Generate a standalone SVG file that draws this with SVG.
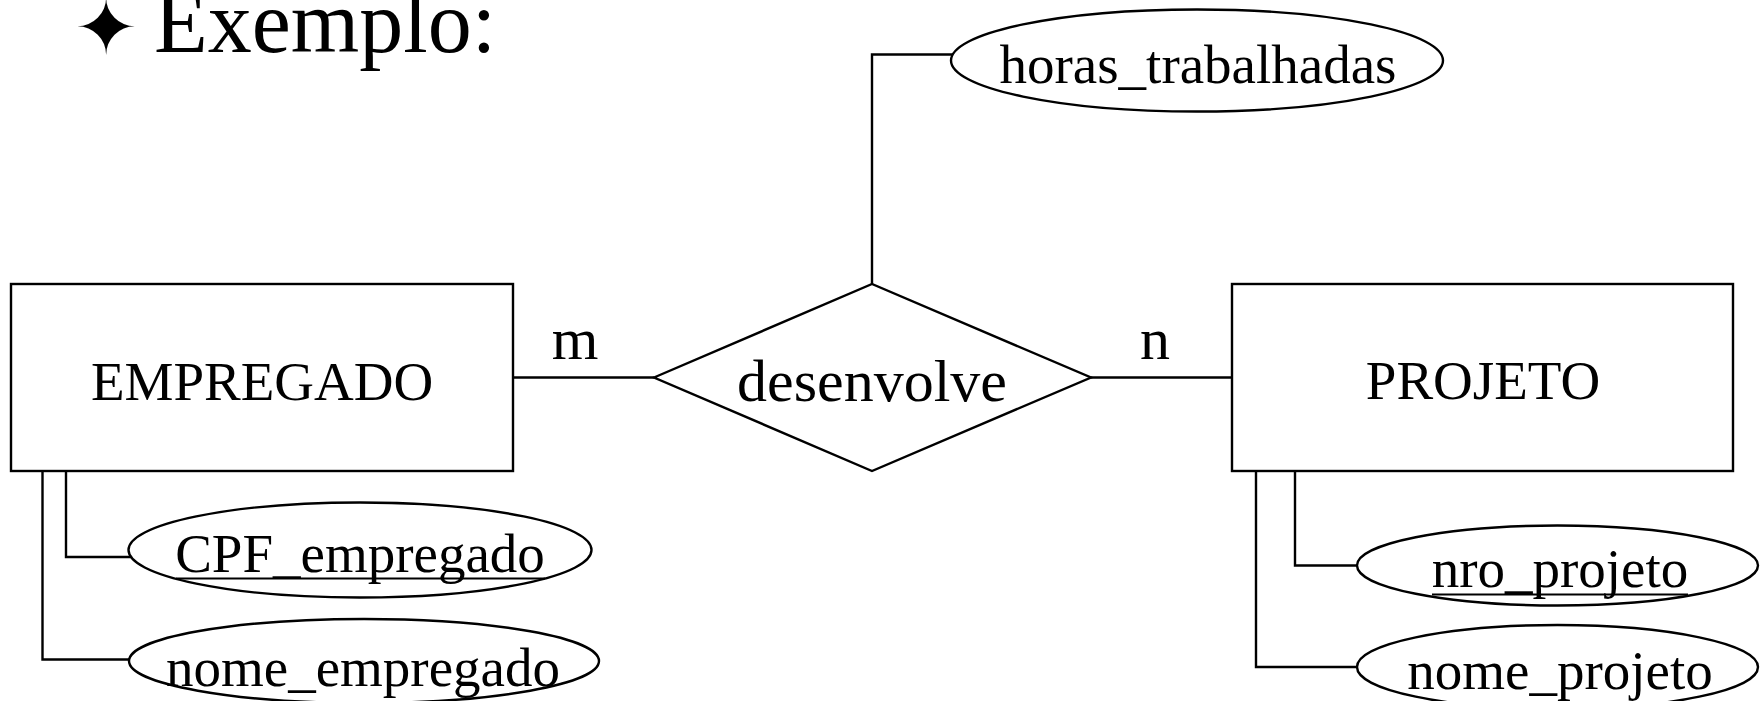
<svg xmlns="http://www.w3.org/2000/svg" width="1760" height="701" viewBox="0 0 1760 701">
  <style>
    .shape { fill: #ffffff; stroke: #000000; stroke-width: 2.4; }
    .wire { fill: none; stroke: #000000; stroke-width: 2.4; }
    .uline { stroke: #000000; stroke-width: 2.2; }
    .lbl { font-family: "Liberation Serif", "Times New Roman", serif; fill: #000000; text-anchor: middle; }
  </style>
  <rect width="1760" height="701" fill="#ffffff"/>

  <!-- slide heading -->
  <g id="heading">
    <text x="106" y="54" font-family="DejaVu Sans, sans-serif" font-size="76" text-anchor="middle">✦</text>
    <text x="154" y="52" font-family="Liberation Serif, serif" font-size="88">Exemplo:</text>
  </g>

  <!-- connectors -->
  <g id="connectors">
    <line class="wire" x1="513" y1="377.5" x2="654" y2="377.5"/>
    <line class="wire" x1="1091" y1="377.5" x2="1232" y2="377.5"/>
    <polyline class="wire" points="872,284 872,54.5 953,54.5"/>
    <polyline class="wire" points="66,471 66,557 131,557"/>
    <polyline class="wire" points="42.5,471 42.5,659.5 130,659.5"/>
    <polyline class="wire" points="1295,471 1295,565.5 1358,565.5"/>
    <polyline class="wire" points="1256,471 1256,667 1358,667"/>
  </g>

  <!-- cardinalities -->
  <g id="cardinalities">
    <text class="lbl" x="575" y="359" font-size="60">m</text>
    <text class="lbl" x="1155" y="359" font-size="60">n</text>
  </g>

  <g id="empregado">
    <rect class="shape" x="11" y="284" width="502" height="187"/>
    <text class="lbl" x="262" y="400" font-size="55">EMPREGADO</text>
  </g>

  <g id="desenvolve">
    <polygon class="shape" points="654,377.5 872,284 1091,377.5 872,471"/>
    <text class="lbl" x="872" y="401" font-size="60">desenvolve</text>
  </g>

  <g id="projeto">
    <rect class="shape" x="1232" y="284" width="501" height="187"/>
    <text class="lbl" x="1483" y="399" font-size="55">PROJETO</text>
  </g>

  <g id="horas_trabalhadas">
    <ellipse class="shape" cx="1197" cy="60.5" rx="246" ry="51"/>
    <text class="lbl" x="1198" y="83" font-size="55">horas_trabalhadas</text>
  </g>

  <!-- key attributes are underlined -->
  <g id="cpf_empregado">
    <ellipse class="shape" cx="360" cy="550" rx="231.5" ry="47.5"/>
    <text class="lbl" x="360" y="572" font-size="55">CPF_empregado</text>
    <line class="uline" x1="176" y1="578.5" x2="545" y2="578.5"/>
  </g>

  <g id="nome_empregado">
    <ellipse class="shape" cx="364" cy="661" rx="235" ry="42"/>
    <text class="lbl" x="363" y="686" font-size="55">nome_empregado</text>
  </g>

  <g id="nro_projeto">
    <ellipse class="shape" cx="1557.5" cy="565.5" rx="200.5" ry="40"/>
    <text class="lbl" x="1560" y="587" font-size="55">nro_projeto</text>
    <line class="uline" x1="1432" y1="594.5" x2="1688" y2="594.5"/>
  </g>

  <g id="nome_projeto">
    <ellipse class="shape" cx="1557.5" cy="667" rx="200.5" ry="42"/>
    <text class="lbl" x="1560" y="689" font-size="55">nome_projeto</text>
  </g>
</svg>
